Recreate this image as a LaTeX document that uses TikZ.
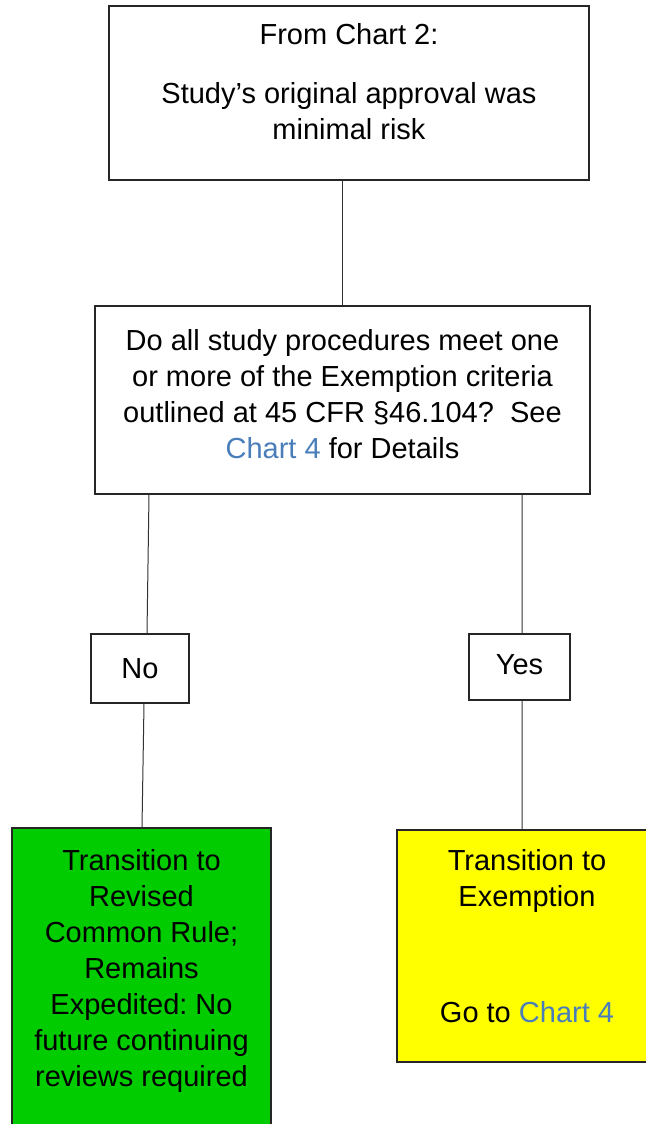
\documentclass[tikz,border=0pt]{standalone}
\usepackage{fontspec}
\setmainfont{Liberation Sans}
\usetikzlibrary{positioning}
\definecolor{linkblue}{RGB}{74,126,187}
\definecolor{okgreen}{RGB}{0,204,0}
\definecolor{goyellow}{RGB}{255,255,0}
\frenchspacing

\begin{document}
\begin{tikzpicture}[x=1bp, y=-1bp,
	box/.style={draw=black!85, line width=1.4bp, inner sep=0pt},
	lbl/.style={font=\fontsize{29bp}{36bp}\selectfont},
	txt/.style={lbl, align=center, inner sep=0pt, anchor=north},
	link/.style={draw=black!80, line width=1bp}
	]
	\clip (0,0) rectangle (646,1124);

	\node[box, minimum width=480bp, minimum height=174bp] (start) at (349,93) {};
	\node[txt, below=18bp of start.north] (starttxt) {From Chart 2:\\[23bp]Study’s original approval was\\minimal risk};

	\node[box, minimum width=495bp, minimum height=188bp] (question) at (342.5,400) {};
	\node[txt, below=24bp of question.north] (questiontxt) {Do all study procedures meet one\\or more of the Exemption criteria\\outlined at 45 CFR §46.104?\ \ See\\\textcolor{linkblue}{Chart 4} for Details};

	\node[box, lbl, minimum width=98bp, minimum height=69bp] (no) at (140,668.5) {No};
	\node[box, lbl, minimum width=101bp, minimum height=66bp] (yes) at (519.5,667) {\raisebox{5bp}{Yes}};

	\node[box, fill=okgreen, minimum width=259bp, minimum height=307bp] (revised) at (141.5,981.5) {};
	\node[txt, below=22bp of revised.north] (revisedtxt) {Transition to\\Revised\\Common Rule;\\Remains\\Expedited: No\\future continuing\\reviews required};

	\node[box, fill=goyellow, minimum width=260bp, minimum height=232bp] (exempt) at (527,946) {};
	\node[txt, below=20bp of exempt.north] (exempttxt) {Transition to\\Exemption\\[80bp]Go to \textcolor{linkblue}{Chart 4}};

	\draw[link] (question.north |- start.south) -- (question.north);
	\draw[link] ([xshift=-193.5bp]question.south) -- ([xshift=7bp]no.north);
	\draw[link] ([xshift=4bp]no.south) -- ([xshift=0.5bp]revised.north);
	\draw[link] ([xshift=179.5bp]question.south) -- ([xshift=2.5bp]yes.north);
	\draw[link] ([xshift=2.5bp]yes.south) -- ([xshift=-5bp]exempt.north);
\end{tikzpicture}
\end{document}
